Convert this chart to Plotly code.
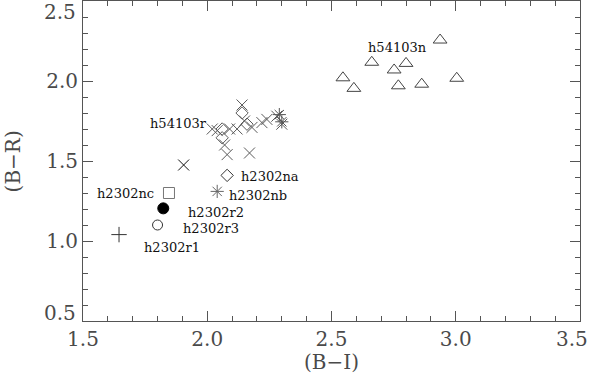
import plotly.graph_objects as go

# ---------------- data ----------------
cross_x = [2.02, 2.04, 2.09, 2.12, 2.14, 2.15, 2.18, 2.22, 2.24, 2.28, 2.30, 2.07, 2.08, 2.17]
cross_y = [1.70, 1.69, 1.70, 1.70, 1.85, 1.75, 1.71, 1.74, 1.76, 1.78, 1.73, 1.60, 1.54, 1.55]
diam_x = [2.06, 2.06, 2.14, 2.16]
diam_y = [1.70, 1.645, 1.80, 1.73]
ast_x = [2.29, 2.30]
ast_y = [1.79, 1.745]
lone_x = [1.905]
lone_y = [1.475]
tri_x = [2.546, 2.59, 2.662, 2.752, 2.769, 2.80, 2.863, 2.937, 3.004]
tri_y = [2.02, 1.954, 2.117, 2.069, 1.97, 2.11, 1.98, 2.256, 2.017]

na_x, na_y = [2.08], [1.41]
nb_x, nb_y = [2.04], [1.31]
nc_x, nc_y = [1.846], [1.30]
r2_x, r2_y = [1.823], [1.204]
r3_x, r3_y = [1.80], [1.10]
r1_x, r1_y = [1.645], [1.04]

label_text = ["h2302na", "h2302nb", "h2302nc", "h2302r2", "h2302r3", "h2302r1", "h54103r", "h54103n"]
label_x = [2.2525, 2.204, 1.669, 2.037, 2.017, 1.860, 1.886, 2.764]
label_y = [1.403, 1.2875, 1.30, 1.181, 1.081, 0.9625, 1.7375, 2.2125]

x_tick_vals = [1.5, 2.0, 2.5, 3.0, 3.5]
x_tick_text = ["1.5", "2.0", "2.5", "3.0", "3.5"]
y_tick_vals = [0.5, 1.0, 1.5, 2.0, 2.5]
y_tick_text = ["0.5", "1.0", "1.5", "2.0", "2.5"]

# ---------------- figure ----------------
AX = "#555555"
TXT = "#4a4a4a"
TICKFONT = dict(family="DejaVu Serif", size=20, color=TXT)
LABFONT = dict(family="DejaVu Serif", size=13, color="#111111")

fig = go.Figure()

def add(x, y, symbol, size, color, width=1, fill=None):
    fig.add_trace(go.Scatter(
        x=x, y=y, mode="markers", showlegend=False, hoverinfo="skip",
        marker=dict(symbol=symbol, size=size, color=fill if fill else color,
                    line=dict(color=color, width=width))))

add(tri_x, tri_y, "triangle-up-open", 12, "#444444")
add(cross_x, cross_y, "x-thin-open", 11, "#5a5a5a")
add(diam_x, diam_y, "diamond-open", 9.5, "#5a5a5a")
add(ast_x, ast_y, "asterisk-open", 11, "#555555")
add(lone_x, lone_y, "x-thin-open", 11, "#111111")
add(na_x, na_y, "diamond-open", 9.5, "#333333")
add(nb_x, nb_y, "asterisk-open", 11, "#666666")
add(nc_x, nc_y, "square-open", 11, "#777777")
add(r2_x, r2_y, "circle", 11, "#000000", fill="#000000")
add(r3_x, r3_y, "circle-open", 10, "#333333")
add(r1_x, r1_y, "cross-thin-open", 11, "#333333")

for t, x, y in zip(label_text, label_x, label_y):
    fig.add_annotation(x=x, y=y, xref="x", yref="y", text=t, showarrow=False,
                       font=LABFONT, xanchor="center", yanchor="middle")

# end tick labels drawn shifted inward (as in the original)
shown_y_text = [t if v not in (y_tick_vals[0], y_tick_vals[-1]) else "" for v, t in zip(y_tick_vals, y_tick_text)]
for v, t, shift in [(y_tick_vals[0], y_tick_text[0], 8), (y_tick_vals[-1], y_tick_text[-1], -11)]:
    fig.add_annotation(x=0, xref="paper", y=v, yref="y", text=t, showarrow=False, borderpad=0,
                       xanchor="right", yanchor="middle", xshift=-6, yshift=shift, font=TICKFONT)
shown_x_text = [t if v != x_tick_vals[-1] else "" for v, t in zip(x_tick_vals, x_tick_text)]
fig.add_annotation(x=x_tick_vals[-1], xref="x", y=0, yref="paper", text=x_tick_text[-1], showarrow=False,
                   xanchor="center", yanchor="top", xshift=-8, yshift=-4, font=TICKFONT)

fig.add_annotation(x=0.5, xref="paper", y=-0.128, yref="paper", text="(B\u2212I)", showarrow=False,
                   xanchor="center", yanchor="middle", font=TICKFONT)
fig.add_annotation(x=-0.14, xref="paper", y=0.5, yref="paper", text="(B\u2212R)", showarrow=False,
                   textangle=-90, xanchor="center", yanchor="middle", font=TICKFONT)

axis_common = dict(showgrid=False, zeroline=False, showline=True, linecolor=AX, linewidth=1,
                   mirror="allticks", ticks="inside", ticklen=10, tickcolor=AX, tickwidth=1,
                   tickfont=TICKFONT, automargin=False,
                   minor=dict(ticks="inside", ticklen=5, tickcolor=AX, tickwidth=1, dtick=0.1, showgrid=False))

fig.update_xaxes(range=[1.5, 3.5], tickmode="array", tickvals=x_tick_vals, ticktext=shown_x_text,
                 **axis_common)
fig.update_yaxes(range=[0.5, 2.5], tickmode="array", tickvals=y_tick_vals, ticktext=shown_y_text,
                 **axis_common)

fig.update_layout(width=597, height=388, margin=dict(l=83, r=17, t=1, b=67),
                  paper_bgcolor="white", plot_bgcolor="white")

fig.write_html("out.html", config={"displayModeBar": False},
               post_script="document.body.style.margin='0px';")
